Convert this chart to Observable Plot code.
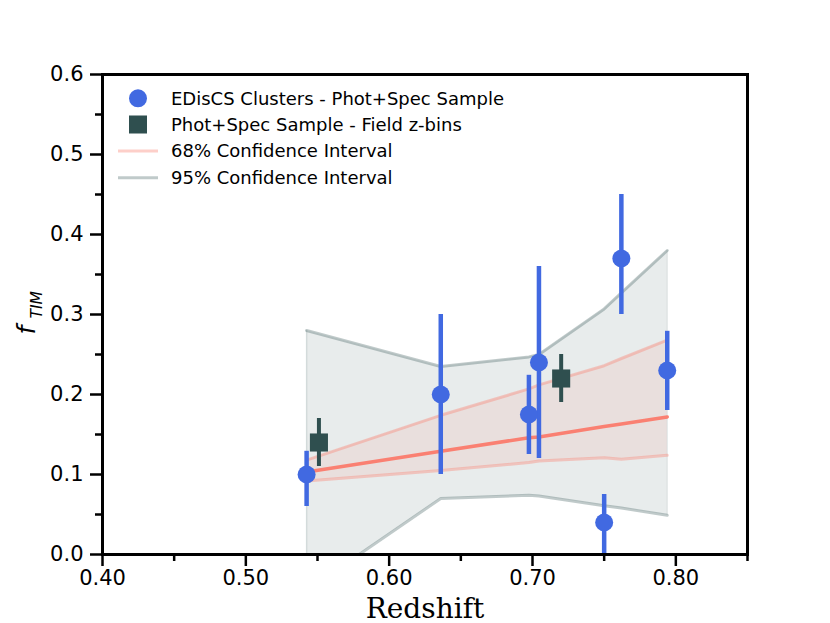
<!DOCTYPE html>
<html><head><meta charset="utf-8">
<script src="https://cdn.jsdelivr.net/npm/d3@7"></script>
<script src="https://cdn.jsdelivr.net/npm/@observablehq/plot@0.6"></script>
<style>
body{margin:0;background:#fff;}
#wrap{position:relative;width:830px;height:623px;}
#wrap svg.legend{position:absolute;left:0;top:0;pointer-events:none;}
</style></head><body><div id="wrap"></div>
<script>
// Cluster measurements (EDisCS Clusters - Phot+Spec Sample)
const clusterZ  = [0.5424, 0.636, 0.6975, 0.7045, 0.750, 0.762, 0.794];
const clusterF  = [0.100, 0.200, 0.175, 0.240, 0.040, 0.370, 0.230];
const clusterLo = [0.060, 0.100, 0.125, 0.120, -0.005, 0.300, 0.180];
const clusterHi = [0.129, 0.300, 0.224, 0.360, 0.075, 0.450, 0.279];
// Field z-bins
const fieldZ  = [0.551, 0.720];
const fieldF  = [0.140, 0.220];
const fieldLo = [0.110, 0.190];
const fieldHi = [0.170, 0.250];
// Confidence bands
const bandZ  = [0.5424, 0.636, 0.6975, 0.7045, 0.750, 0.762, 0.794];
const ci95Lo = [-0.045, 0.070, 0.074, 0.073, 0.061, 0.058, 0.049];
const ci95Hi = [0.280, 0.235, 0.247, 0.250, 0.307, 0.327, 0.380];
const ci68Lo = [0.092, 0.105, 0.115, 0.117, 0.121, 0.119, 0.124];
const ci68Hi = [0.118, 0.174, 0.207, 0.212, 0.236, 0.245, 0.268];
const median = [0.103, 0.129, 0.146, 0.147, 0.160, 0.163, 0.172];
// Ticks
const xTicks = [0.40, 0.50, 0.60, 0.70, 0.80];
const xMinor = [0.45, 0.55, 0.65, 0.75, 0.85];
const yTicks = [0.0, 0.1, 0.2, 0.3, 0.4, 0.5, 0.6];
const yMinor = [0.05, 0.15, 0.25, 0.35, 0.45, 0.55];
const legendLabels = ["EDisCS Clusters - Phot+Spec Sample", "Phot+Spec Sample - Field z-bins", "68% Confidence Interval", "95% Confidence Interval"];

const clusters = clusterZ.map((z, i) => ({z, f: clusterF[i], lo: clusterLo[i], hi: clusterHi[i]}));
const field = fieldZ.map((z, i) => ({z, f: fieldF[i], lo: fieldLo[i], hi: fieldHi[i]}));
const band = bandZ.map((z, i) => ({z, lo95: ci95Lo[i], hi95: ci95Hi[i], lo68: ci68Lo[i], hi68: ci68Hi[i], med: median[i]}));
const bandEdges = [band[0], band[band.length - 1]];

const BLUE = "#4169e1", SLATE = "#2f4f4f", SALMON = "#fa8072";
const blank = () => "";

const plot = Plot.plot({
  width: 830, height: 623,
  marginLeft: 102, marginRight: 83, marginTop: 74, marginBottom: 69,
  style: {fontFamily: "DejaVu Sans", fontSize: "21px", color: "black", background: "white"},
  x: {domain: [0.40, 0.85]},
  y: {domain: [0, 0.6]},
  marks: [
    Plot.areaY(band, {x: "z", y1: "lo95", y2: "hi95", fill: SLATE, fillOpacity: 0.11, clip: true}),
    Plot.ruleX(bandEdges, {x: "z", y1: "lo95", y2: "hi95", stroke: SLATE, strokeOpacity: 0.12, strokeWidth: 1.5, clip: true}),
    Plot.areaY(band, {x: "z", y1: "lo68", y2: "hi68", fill: SALMON, fillOpacity: 0.12, clip: true}),
    Plot.line(band, {x: "z", y: "hi95", stroke: SLATE, strokeOpacity: 0.3, strokeWidth: 3, clip: true}),
    Plot.line(band, {x: "z", y: "lo95", stroke: SLATE, strokeOpacity: 0.3, strokeWidth: 3, clip: true}),
    Plot.line(band, {x: "z", y: "hi68", stroke: SALMON, strokeOpacity: 0.38, strokeWidth: 3, clip: true}),
    Plot.line(band, {x: "z", y: "lo68", stroke: SALMON, strokeOpacity: 0.38, strokeWidth: 3, clip: true}),
    Plot.line(band, {x: "z", y: "med", stroke: SALMON, strokeWidth: 3.5, clip: true}),
    Plot.ruleX(clusters, {x: "z", y1: "lo", y2: "hi", stroke: BLUE, strokeWidth: 4.5, clip: true}),
    Plot.dot(clusters, {x: "z", y: "f", r: 9, fill: BLUE}),
    Plot.ruleX(field, {x: "z", y1: "lo", y2: "hi", stroke: SLATE, strokeWidth: 4}),
    Plot.dot(field, {x: "z", y: "f", r: 10.2, symbol: "square", fill: SLATE}),
    Plot.frame({stroke: "black", strokeWidth: 3}),
    Plot.axisX(xTicks, {tickSize: 12, strokeWidth: 2.5, tickPadding: 4, tickFormat: d => d.toFixed(2), label: null, fontSize: 21}),
    Plot.axisX(xMinor, {tickSize: 7, strokeWidth: 2.5, tickFormat: blank, label: null}),
    Plot.axisY(yTicks, {tickSize: 12, strokeWidth: 2.5, tickPadding: 7, tickFormat: d => d.toFixed(1), label: null, fontSize: 21}),
    Plot.axisY(yMinor, {tickSize: 7, strokeWidth: 2.5, tickFormat: blank, label: null}),
    Plot.text(["Redshift"], {frameAnchor: "bottom", lineAnchor: "bottom", dy: 63, fontFamily: "DejaVu Serif", fontSize: 28, fill: "black"}),
    Plot.text(["f"], {frameAnchor: "left", rotate: -90, dx: -76, dy: 20, fontStyle: "italic", fontSize: 25, fill: "black"}),
    Plot.text(["TIM"], {frameAnchor: "left", rotate: -90, dx: -65, dy: 4, fontStyle: "italic", fontSize: 15.5, fill: "black"})
  ]
});
const wrap = document.getElementById("wrap");
wrap.appendChild(plot);

// Legend overlay
const lg = d3.select(wrap).append("svg").attr("class", "legend").attr("width", 830).attr("height", 623);
const rowY = [98.3, 124.5, 151, 177.7];
lg.append("circle").attr("cx", 138).attr("cy", rowY[0]).attr("r", 9).attr("fill", BLUE);
lg.append("rect").attr("x", 129).attr("y", rowY[1] - 9).attr("width", 18).attr("height", 18).attr("fill", SLATE);
lg.append("line").attr("x1", 118).attr("x2", 158).attr("y1", rowY[2]).attr("y2", rowY[2]).attr("stroke", SALMON).attr("stroke-opacity", 0.38).attr("stroke-width", 3);
lg.append("line").attr("x1", 118).attr("x2", 158).attr("y1", rowY[3]).attr("y2", rowY[3]).attr("stroke", SLATE).attr("stroke-opacity", 0.3).attr("stroke-width", 3);
legendLabels.forEach((t, i) => {
  lg.append("text").attr("x", 171).attr("y", rowY[i]).attr("dy", "0.35em")
    .attr("font-family", "DejaVu Sans").attr("font-size", 18).attr("fill", "black").text(t);
});
</script></body></html>
